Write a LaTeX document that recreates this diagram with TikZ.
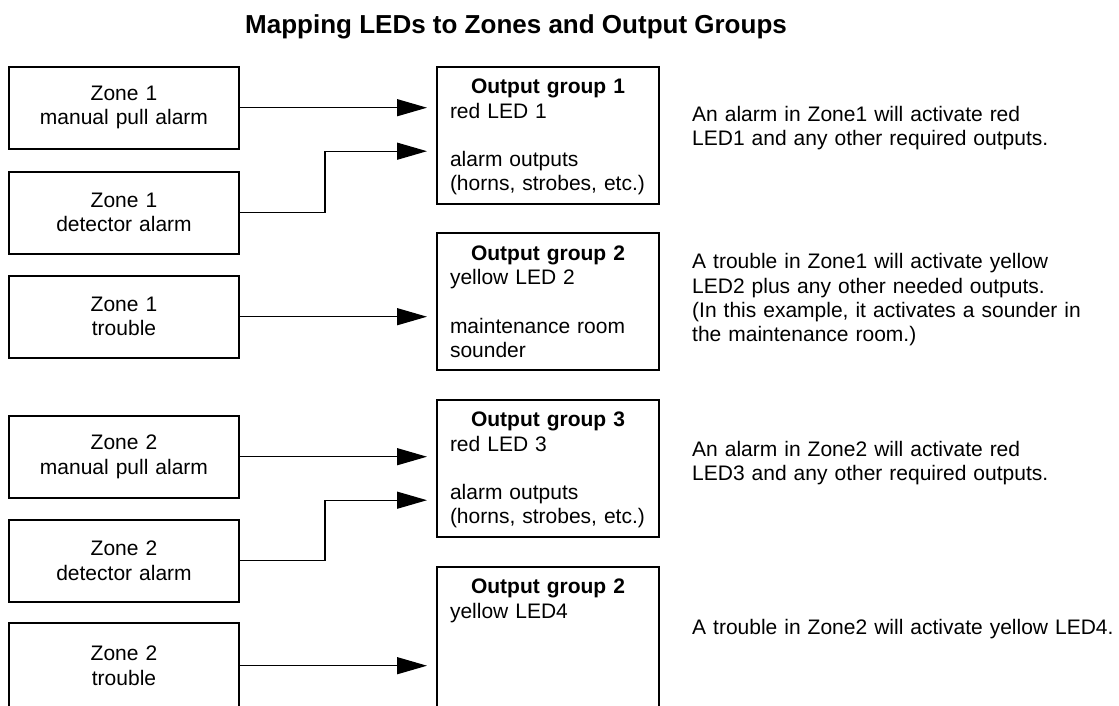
\documentclass[tikz,border=0pt]{standalone}
\usepackage{fontspec}
\setmainfont{Liberation Sans}
\usetikzlibrary{arrows.meta,positioning}
\newcommand{\bodyfont}{\fontsize{21}{24.3}\selectfont}
\newcommand{\titlefont}{\fontsize{26}{30}\selectfont\bfseries}
\newcommand{\grouptitle}[1]{\makebox[\linewidth]{\bfseries #1}}

\begin{document}
\begin{tikzpicture}[
    x=1pt,y=-1pt,
    node distance=22pt,
    zone/.style={rectangle,draw,line width=2pt,outer sep=0pt,
      minimum width=230pt,minimum height=82pt,text width=216pt,align=center,
      font=\bodyfont},
    group/.style={rectangle,draw,line width=2pt,outer sep=0pt,
      inner xsep=13pt,inner ysep=0pt,text width=196pt,align=left,
      text height=27pt,text depth=110pt,font=\bodyfont},
    note/.style={anchor=base west,inner sep=0pt,text width=425pt,align=left,
      font=\bodyfont},
    arrow/.style={-{Triangle[length=30pt,width=17pt]},line width=1.3pt,
      shorten >=10pt}
  ]
    \useasboundingbox (0,0) rectangle (1119,705);

    \node[font=\titlefont,anchor=base] (title) at (516,33)
      {Mapping LEDs to Zones and Output Groups};

    % zones on the left
    \node[zone] (z1pull) at (124,107.7) {Zone 1\\manual pull alarm};
    \node[zone,below=23pt of z1pull] (z1det) {Zone 1\\detector alarm};
    \node[zone,below=of z1det] (z1trb) {Zone 1\\trouble};
    \node[zone,below=58pt of z1trb] (z2pull) {Zone 2\\manual pull alarm};
    \node[zone,below=of z2pull] (z2det) {Zone 2\\detector alarm};
    \node[zone,below=21pt of z2det,minimum height=86pt] (z2trb) {Zone 2\\trouble};

    % output groups
    \node[group,anchor=north] (g1) at (548,66.7)
      {\grouptitle{Output group 1}\\red LED 1\\[24.3pt]alarm outputs\\(horns, strobes, etc.)};
    \node[group,below=29.5pt of g1] (g2)
      {\grouptitle{Output group 2}\\yellow LED 2\\[24.3pt]maintenance room\\sounder};
    \node[group,below=29.5pt of g2] (g3)
      {\grouptitle{Output group 3}\\red LED 3\\[24.3pt]alarm outputs\\(horns, strobes, etc.)};
    \node[group,below=30pt of g3,text depth=130pt] (g4)
      {\grouptitle{Output group 2}\\yellow LED4};

    \draw[arrow] (z1pull.east) -- (z1pull.east -| g1.west);
    \draw[arrow] (z1det.east) -- ++(86,0) |- ([yshift=-43.5pt]z1pull.east -| g1.west);
    \draw[arrow] (z1trb.east) -- (z1trb.east -| g2.west);
    \draw[arrow] (z2pull.east) -- (z2pull.east -| g3.west);
    \draw[arrow] (z2det.east) -- ++(86,0) |- ([yshift=-43.5pt]z2pull.east -| g3.west);
    \draw[arrow] (z2trb.east) -- (z2trb.east -| g4.west);

    \node[note] (n1) at (692,121)
      {An alarm in Zone1 will activate red\\LED1 and any other required outputs.};
    \node[note] (n2) at (692,268.7)
      {A trouble in Zone1 will activate yellow\\LED2 plus any other needed outputs.\\(In this example, it activates a sounder in\\the maintenance room.)};
    \node[note] (n3) at (692,456)
      {An alarm in Zone2 will activate red\\LED3 and any other required outputs.};
    \node[note] (n4) at (692,634)
      {A trouble in Zone2 will activate yellow LED4.};
  \end{tikzpicture}
\end{document}
